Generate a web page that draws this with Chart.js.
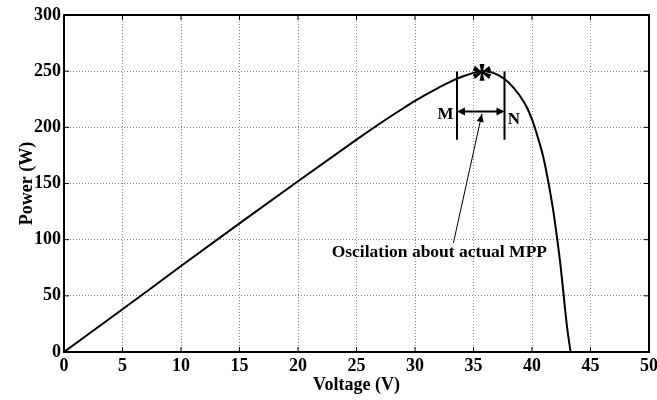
<!DOCTYPE html>
<html><head><meta charset="utf-8">
<script src="https://cdn.jsdelivr.net/npm/chart.js@4.4.1/dist/chart.umd.min.js"></script>
<style>html,body{margin:0;padding:0;background:#fff}#wrap{width:657px;height:400px}</style>
</head><body><div id="wrap"><canvas id="c" width="657" height="400"></canvas></div>
<script>
// P-V curve data
const voltage = [0, 5, 10, 15, 20, 25, 26, 27, 28, 29, 30, 31, 32, 33, 34, 35, 35.7, 36.5, 37.2, 38, 38.9, 39.5, 40, 40.5, 41, 41.4, 41.8, 42.15, 42.45, 42.7, 43, 43.3];
const power   = [0, 38, 76.5, 114.5, 152, 189, 196.3, 203.4, 210.3, 217, 223.5, 229.6, 235.2, 240.5, 245, 248.5, 250, 249, 246, 240, 229, 219, 207, 191, 172, 151, 127, 101, 76, 51, 22, 0];
const xTicks = [0, 5, 10, 15, 20, 25, 30, 35, 40, 45, 50];
const yTicks = [0, 50, 100, 150, 200, 250, 300];
// annotation (data units)
const bracketV = [33.59, 37.65];       // M and N voltages
const bracketP = [189, 249.8];         // vertical extent of M/N lines
const arrowP = 214;                    // level of double arrow
const starPoint = [35.72, 250];
const pointerFrom = [33.28, 97];
const pointerTo = [35.72, 212];
const noteText = 'Oscilation about actual MPP';
const notePos = [32.08, 89];
const labelM = ['M', 32.6, 211];
const labelN = ['N', 38.45, 207];

const FONT = '"Liberation Serif", "Times New Roman", serif';

function arrowHead(ctx, x1, y1, x2, y2, len, wid) {
  const a = Math.atan2(y2 - y1, x2 - x1);
  ctx.beginPath();
  ctx.moveTo(x2, y2);
  ctx.lineTo(x2 - len * Math.cos(a) + wid * Math.sin(a), y2 - len * Math.sin(a) - wid * Math.cos(a));
  ctx.lineTo(x2 - len * Math.cos(a) - wid * Math.sin(a), y2 - len * Math.sin(a) + wid * Math.cos(a));
  ctx.closePath();
  ctx.fill();
}

const framePlugin = {
  id: 'frame',
  afterDatasetsDraw(chart) {
    const {ctx, chartArea: a, scales: {x, y}} = chart;
    ctx.save();
    ctx.strokeStyle = '#000';
    ctx.fillStyle = '#000';
    // annotations
    ctx.lineWidth = 2;
    const xm = x.getPixelForValue(bracketV[0]), xn = x.getPixelForValue(bracketV[1]);
    const yt = y.getPixelForValue(bracketP[1]), yb = y.getPixelForValue(bracketP[0]);
    ctx.beginPath();
    ctx.moveTo(xm, yt); ctx.lineTo(xm, yb);
    ctx.moveTo(xn, yt); ctx.lineTo(xn, yb);
    const ya = y.getPixelForValue(arrowP);
    ctx.moveTo(xm + 6, ya); ctx.lineTo(xn - 6, ya);
    ctx.stroke();
    arrowHead(ctx, xn - 10, ya, xn, ya, 8, 4);
    arrowHead(ctx, xm + 10, ya, xm, ya, 8, 4);
    // pointer
    ctx.lineWidth = 1;
    const px1 = x.getPixelForValue(pointerFrom[0]), py1 = y.getPixelForValue(pointerFrom[1]);
    const px2 = x.getPixelForValue(pointerTo[0]), py2 = y.getPixelForValue(pointerTo[1]);
    ctx.beginPath(); ctx.moveTo(px1, py1); ctx.lineTo(px2, py2); ctx.stroke();
    arrowHead(ctx, px1, py1, px2, py2, 8, 3.5);
    // texts
    ctx.font = 'bold 17.5px ' + FONT;
    ctx.textAlign = 'center';
    ctx.textBaseline = 'middle';
    ctx.fillText(noteText, x.getPixelForValue(notePos[0]), y.getPixelForValue(notePos[1]));
    ctx.font = 'bold 17px ' + FONT;
    ctx.fillText(labelM[0], x.getPixelForValue(labelM[1]), y.getPixelForValue(labelM[2]));
    ctx.fillText(labelN[0], x.getPixelForValue(labelN[1]), y.getPixelForValue(labelN[2]));
    ctx.font = 'bold 44px ' + FONT;
    ctx.fillText('*', x.getPixelForValue(starPoint[0]), y.getPixelForValue(starPoint[1]) + 10);
    // inward ticks
    ctx.lineWidth = 1;
    ctx.beginPath();
    xTicks.forEach(v => {
      const px = x.getPixelForValue(v);
      ctx.moveTo(px, a.bottom); ctx.lineTo(px, a.bottom - 5);
      ctx.moveTo(px, a.top); ctx.lineTo(px, a.top + 5);
    });
    yTicks.forEach(v => {
      const py = y.getPixelForValue(v);
      ctx.moveTo(a.left, py); ctx.lineTo(a.left + 5, py);
      ctx.moveTo(a.right, py); ctx.lineTo(a.right - 5, py);
    });
    ctx.stroke();
    // frame
    ctx.lineWidth = 2;
    ctx.strokeRect(a.left, a.top, a.right - a.left, a.bottom - a.top);
    ctx.restore();
  }
};

new Chart(document.getElementById('c'), {
  type: 'line',
  data: {
    datasets: [{
      data: voltage.map((v, i) => ({x: v, y: power[i]})),
      borderColor: '#000',
      borderWidth: 2,
      pointRadius: 0,
      fill: false,
      cubicInterpolationMode: 'monotone'
    }]
  },
  options: {
    responsive: false,
    animation: false,
    devicePixelRatio: 1,
    layout: {padding: {left: 0, right: 0, top: 15, bottom: 0}},
    plugins: {legend: {display: false}, tooltip: {enabled: false}},
    scales: {
      x: {
        type: 'linear', min: 0, max: 50,
        afterBuildTicks: s => { s.ticks = xTicks.map(v => ({value: v})); },
        afterFit: s => { s.height = 48; s.paddingRight = 8; s.paddingLeft = 0; },
        grid: {color: '#888', lineWidth: 1, drawTicks: false},
        border: {display: false, dash: [1, 2]},
        ticks: {color: '#000', font: {family: FONT, size: 18, weight: 'bold'}, padding: 4, maxRotation: 0},
        title: {display: true, text: 'Voltage (V)', color: '#000', font: {family: FONT, size: 18, weight: 'bold'}, padding: {top: 0, bottom: 4}}
      },
      y: {
        type: 'linear', min: 0, max: 300,
        afterBuildTicks: s => { s.ticks = yTicks.map(v => ({value: v})); },
        afterFit: s => { s.width = 64; },
        grid: {color: '#888', lineWidth: 1, drawTicks: false},
        border: {display: false, dash: [1, 2]},
        ticks: {color: '#000', font: {family: FONT, size: 18, weight: 'bold'}, padding: 3},
        title: {display: true, text: 'Power (W)', color: '#000', font: {family: FONT, size: 18, weight: 'bold'}, padding: {top: 17, bottom: 0}}
      }
    }
  },
  plugins: [framePlugin]
});
</script>
</body></html>
